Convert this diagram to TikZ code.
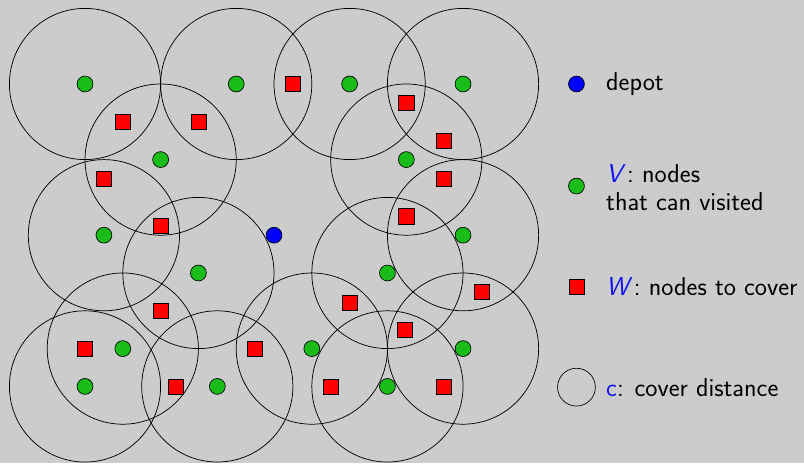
\documentclass[tikz,border=0pt]{standalone}
\usepackage{fontspec}
\begin{document}
\begin{tikzpicture}[x=1cm, y=-1cm,
  font=\sffamily\fontsize{19.5}{21}\selectfont,
  visit/.style={circle, draw, fill=vgreen, minimum size=0.42cm, inner sep=0pt, line width=0.5pt},
  tocover/.style={rectangle, draw, fill=red, minimum size=0.4cm, inner sep=0pt, line width=0.5pt},
  depotnode/.style={circle, draw, fill=blue, minimum size=0.42cm, inner sep=0pt, line width=0.5pt},
  covercirc/.style={draw, line width=0.55pt},
  legtext/.style={anchor=west, inner sep=0pt, align=left}]
\definecolor{vgreen}{RGB}{26,188,26}
\definecolor{bggray}{RGB}{204,204,204}
\definecolor{mblue}{RGB}{20,20,240}

% page background and size
\fill[bggray] (-0.249,-0.222) rectangle (21.02,12.03);
\useasboundingbox (-0.249,-0.222) rectangle (21.02,12.03);

% candidate nodes (V) with their cover circles
\foreach \n/\x/\y in {v1/2/2, v2/6/2, v3/9/2, v4/12/2,
                      v5/4/4, v6/10.5/4,
                      v7/2.5/6, v8/12/6,
                      v9/5/7, v10/10/7,
                      v11/3/9, v12/8/9, v13/12/9,
                      v14/2/10, v15/5.5/10, v16/10/10}{
  \node[visit] (\n) at (\x,\y) {};
  \draw[covercirc] (\n) circle[radius=2cm];
}

% depot
\node[depotnode] (d) at (7,6) {};

% nodes that must be covered (W)
\foreach \n/\x/\y in {w1/7.5/2, w2/3/3, w3/5/3, w4/10.5/2.5, w5/11.5/3.5,
                      w6/11.5/4.5, w7/2.5/4.5, w8/4/5.75, w9/10.5/5.5,
                      w10/4/8, w11/2/9, w12/4.4/10, w13/6.5/9,
                      w14/9/7.8, w15/10.45/8.5, w16/12.5/7.5,
                      w17/8.5/10, w18/11.5/10}{
  \node[tocover] (\n) at (\x,\y) {};
}

% legend
\node[depotnode] (ld) at (15,2) {};
\node[legtext] (ldt) at (15.78,2) {depot};

\node[visit] (lv) at (15,4.7) {};
\node[legtext] (lvt) at (15.78,4.75) {\textcolor{mblue}{\textit{V}}\kern1pt: nodes\\that can visited};

\node[tocover] (lw) at (15,7.37) {};
\node[legtext] (lwt) at (15.78,7.37) {\textcolor{mblue}{\textit{W}}\kern1pt: nodes to cover};

\node[circle, draw, minimum size=1cm, inner sep=0pt, line width=0.5pt] (lc) at (15,10.02) {};
\node[legtext] (lct) at (15.78,10.02) {\textcolor{mblue}{c}: cover distance};
\end{tikzpicture}
\end{document}
